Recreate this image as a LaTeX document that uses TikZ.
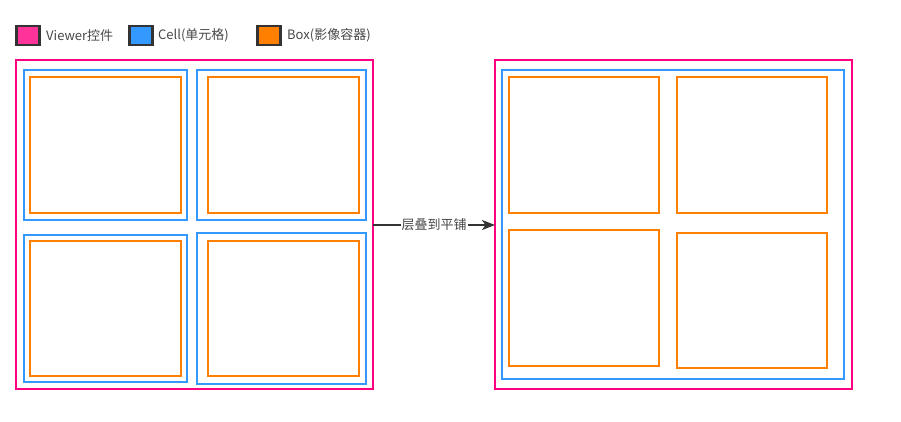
\documentclass[tikz,border=0pt]{standalone}
\usepackage{fontspec}
\setmainfont{Noto Sans CJK SC}
\usetikzlibrary{arrows.meta}
\definecolor{vpink}{HTML}{FF0080}
\definecolor{vpinkfill}{HTML}{FF3399}
\definecolor{cblue}{HTML}{3399FF}
\definecolor{borange}{HTML}{FF8000}
\definecolor{dgray}{HTML}{333333}
\tikzset{
  viewerbox/.style={draw=vpink, line width=1.9pt, inner sep=0pt, outer sep=0pt, anchor=north west},
  cellbox/.style={draw=cblue, line width=1.9pt, inner sep=0pt, outer sep=0pt, anchor=north west},
  imgbox/.style={draw=borange, line width=1.9pt, inner sep=0pt, outer sep=0pt, anchor=north west},
  legsq/.style={draw=dgray, line width=2.2pt, inner sep=0pt, outer sep=0pt, minimum width=23pt, minimum height=19pt, anchor=north west},
  legtext/.style={text=dgray!90, font=\fontsize{13pt}{15pt}\selectfont, anchor=west, inner sep=0pt},
  flow/.style={draw=dgray, line width=1.7pt, -{Stealth[length=13pt,width=10pt,inset=3.5pt]}},
  flowlabel/.style={fill=white, text=dgray!90, font=\fontsize{13pt}{15pt}\selectfont, inner sep=1pt}
}
\begin{document}
\begin{tikzpicture}[x=1pt,y=-1pt]
\useasboundingbox (0,0) rectangle (901,421);
% legend
\node[legsq, fill=vpinkfill] (l1) at (16.5,26) {};
\node[legtext] (t1) at (46,35.5) {Viewer控件};
\node[legsq, fill=cblue] (l2) at (129.5,26) {};
\node[legtext] (t2) at (158,35.5) {Cell(单元格)};
\node[legsq, fill=borange] (l3) at (257.5,26) {};
\node[legtext] (t3) at (287,35.5) {Box(影像容器)};
% left viewer
\node[viewerbox, minimum width=357pt, minimum height=329pt] (vl) at (16,60) {};
\node[cellbox, minimum width=163pt, minimum height=150pt] (c1) at (24,70) {};
\node[cellbox, minimum width=169pt, minimum height=150pt] (c2) at (197,70) {};
\node[cellbox, minimum width=163pt, minimum height=147pt] (c3) at (24,235) {};
\node[cellbox, minimum width=169pt, minimum height=150.5pt] (c4) at (197,233.3) {};
\node[imgbox, minimum width=151pt, minimum height=135.5pt] (b1) at (30,77.3) {};
\node[imgbox, minimum width=151.3pt, minimum height=135.5pt] (b2) at (208,77.3) {};
\node[imgbox, minimum width=151pt, minimum height=135pt] (b3) at (30,241) {};
\node[imgbox, minimum width=151.3pt, minimum height=134.7pt] (b4) at (208,241) {};
% right viewer
\node[viewerbox, minimum width=357pt, minimum height=329pt] (vr) at (495,60) {};
\node[cellbox, minimum width=342.3pt, minimum height=309.3pt] (cr) at (501.7,70) {};
\node[imgbox, minimum width=150.3pt, minimum height=135.4pt] (r1) at (509,77.3) {};
\node[imgbox, minimum width=149.7pt, minimum height=135.4pt] (r2) at (677.3,77.3) {};
\node[imgbox, minimum width=150pt, minimum height=135.4pt] (r3) at (509,230.3) {};
\node[imgbox, minimum width=150pt, minimum height=134.4pt] (r4) at (677,233.3) {};
% arrow
\draw[flow] (vl.east |- 0,225) -- node[flowlabel] (lab) {层叠到平铺} (vr.west |- 0,225);
\end{tikzpicture}
\end{document}
